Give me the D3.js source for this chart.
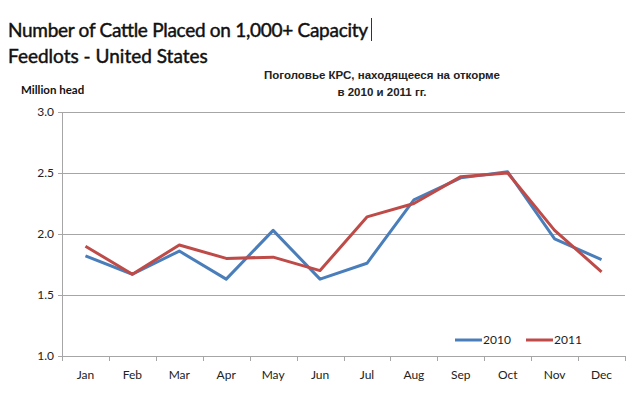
<!DOCTYPE html>
<html>
<head>
<meta charset="utf-8">
<script src="https://cdn.jsdelivr.net/npm/d3@7"></script>
<style>
  body { margin: 0; background: #fff; }
  svg { display: block; }
</style>
</head>
<body>
<div id="chart"></div>
<script>
// data
const months = ["Jan", "Feb", "Mar", "Apr", "May", "Jun", "Jul", "Aug", "Sep", "Oct", "Nov", "Dec"];
const values2010 = [1.82, 1.67, 1.86, 1.63, 2.03, 1.63, 1.76, 2.28, 2.46, 2.51, 1.96, 1.79];
const values2011 = [1.90, 1.67, 1.91, 1.80, 1.81, 1.70, 2.14, 2.25, 2.47, 2.50, 2.03, 1.69];
const yTicks = [1.0, 1.5, 2.0, 2.5, 3.0];
const seriesNames = ["2010", "2011"];

const W = 637, H = 393;
const margin = { top: 112, right: 12, bottom: 37, left: 62 };
const width = W - margin.left - margin.right,
  height = H - margin.top - margin.bottom;

const svg = d3.select("#chart").append("svg")
  .attr("width", W)
  .attr("height", H);

const font = "Lato, 'Open Sans', sans-serif";

// titles (regular weight with a thin outline to mimic the heavier Calibri rendering)
svg.append("text")
  .attr("x", 8).attr("y", 37)
  .attr("font-family", font)
  .attr("font-size", "19px")
  .attr("fill", "#111")
  .attr("stroke", "#111").attr("stroke-width", 0.45)
  .attr("textLength", 360)
  .text("Number of Cattle Placed on 1,000+ Capacity");
svg.append("line")
  .attr("x1", 371.5).attr("x2", 371.5)
  .attr("y1", 18).attr("y2", 41)
  .attr("stroke", "#333").attr("stroke-width", 1);
svg.append("text")
  .attr("x", 8).attr("y", 63)
  .attr("font-family", font)
  .attr("font-size", "19px")
  .attr("fill", "#111")
  .attr("stroke", "#111").attr("stroke-width", 0.45)
  .text("Feedlots - United States");

const sub = svg.append("text")
  .attr("text-anchor", "middle")
  .attr("font-family", "'Liberation Sans', Arial, sans-serif")
  .attr("font-size", "11.5px")
  .attr("font-weight", "bold")
  .attr("fill", "#222");
sub.append("tspan").attr("x", 382).attr("y", 79).text("Поголовье КРС, находящееся на откорме");
sub.append("tspan").attr("x", 382).attr("y", 96).text("в 2010 и 2011 гг.");

svg.append("text")
  .attr("x", 21).attr("y", 94)
  .attr("font-family", font)
  .attr("font-size", "11.5px")
  .attr("font-weight", "bold")
  .attr("fill", "#111")
  .text("Million head");

const g = svg.append("g")
  .attr("transform", `translate(${margin.left},${margin.top})`);

// scales
const x = d3.scaleBand().domain(months).range([0, width]);
const y = d3.scaleLinear().domain([1, 3]).range([height, 0]);

// gridlines
g.append("g")
  .selectAll("line")
  .data(yTicks.slice(1))
  .enter().append("line")
  .attr("x1", 0).attr("x2", width)
  .attr("y1", d => Math.round(y(d)) + 0.5)
  .attr("y2", d => Math.round(y(d)) + 0.5)
  .attr("stroke", "#a6a6a6");

// y axis
const yAxis = g.append("g")
  .call(d3.axisLeft(y).tickValues(yTicks).tickFormat(d3.format(".1f")).tickSize(4).tickPadding(4));
yAxis.select(".domain").attr("stroke", "#a6a6a6");
yAxis.selectAll(".tick line").attr("stroke", "#a6a6a6");
yAxis.selectAll("text")
  .attr("font-family", font)
  .attr("font-size", "12px")
  .attr("fill", "#222");

// x axis
const xAxis = g.append("g")
  .attr("transform", `translate(0,${height})`)
  .call(d3.axisBottom(x).tickSize(0).tickPadding(14));
xAxis.select(".domain").attr("stroke", "#a6a6a6");
xAxis.selectAll("text")
  .attr("font-family", font)
  .attr("font-size", "12px")
  .attr("fill", "#222");
// category boundary ticks
g.append("g")
  .selectAll("line")
  .data(d3.range(months.length + 1))
  .enter().append("line")
  .attr("x1", i => Math.round(i * x.step()) + 0.5)
  .attr("x2", i => Math.round(i * x.step()) + 0.5)
  .attr("y1", height).attr("y2", height + 5)
  .attr("stroke", "#a6a6a6");

// lines
const colors = ["#4a7ebb", "#be4b48"];
const line = d3.line()
  .x((d, i) => x(months[i]) + x.bandwidth() / 2)
  .y(d => y(d));

[values2010, values2011].forEach((vals, k) => {
  g.append("path")
    .datum(vals)
    .attr("fill", "none")
    .attr("stroke", colors[k])
    .attr("stroke-width", 3)
    .attr("stroke-linejoin", "round")
    .attr("d", line);
});

// legend
const legendX = [455, 526];
seriesNames.forEach((name, k) => {
  svg.append("line")
    .attr("x1", legendX[k]).attr("x2", legendX[k] + 27)
    .attr("y1", 340).attr("y2", 340)
    .attr("stroke", colors[k])
    .attr("stroke-width", 3);
  svg.append("text")
    .attr("x", legendX[k] + 28).attr("y", 344)
    .attr("font-family", font)
    .attr("font-size", "12px")
    .attr("fill", "#222")
    .text(name);
});
</script>
</body>
</html>
